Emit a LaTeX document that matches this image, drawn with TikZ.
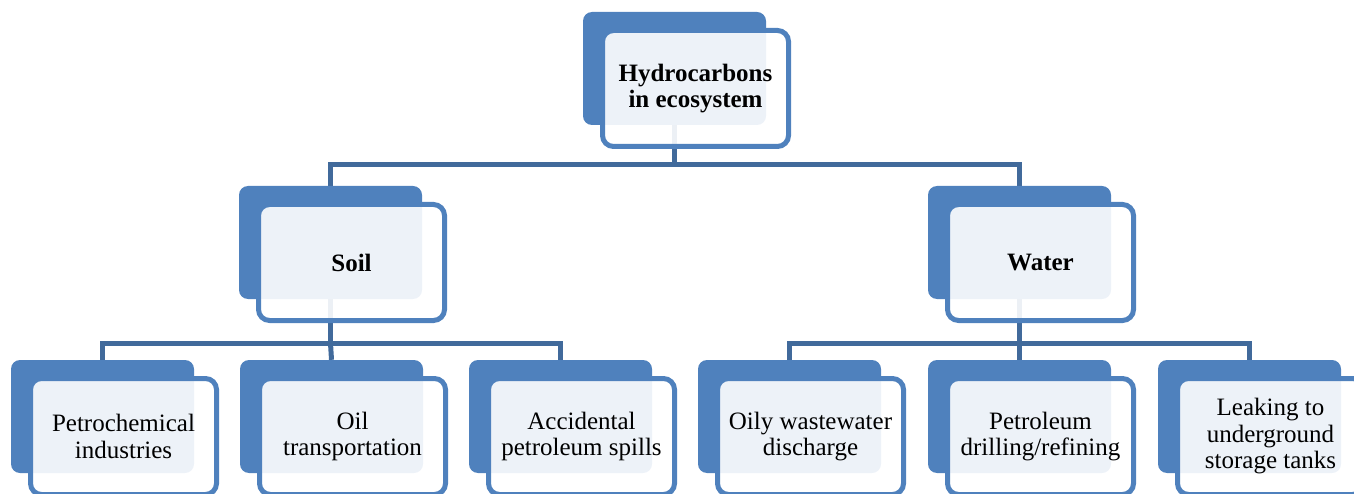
\documentclass[tikz,border=0pt]{standalone}
\usepackage{fontspec}
\setmainfont{Liberation Serif}
\definecolor{hcblue}{RGB}{79,129,189}
\definecolor{hcline}{RGB}{65,106,155}
\pgfdeclarelayer{bg}
\pgfsetlayers{bg,main}
\begin{document}
\begin{tikzpicture}[x=1pt,y=-1pt,
				line join = miter,inner sep = 0pt,
				hcback/.style={rectangle,rounded corners=9pt,fill = hcblue, minimum width=183pt, minimum height=113pt},
				hcfront/.style={rectangle,rounded corners=11pt,draw = hcblue,line width=5pt,fill = white,fill opacity=0.9,text opacity=1,minimum width=186pt, minimum height=116pt,align=center,font=\fontsize{25}{26.5}\selectfont},
				hcbold/.style={hcfront,font=\fontsize{25}{26.5}\selectfont\bfseries},
				hcconn/.style={draw = hcline,line width=5pt}]
				\useasboundingbox (0,0) rectangle (1354,494);
				\clip (0,0) rectangle (1354,494);
				\node at (674.5,68.5) (hydro) [hcback] {};
				\node at (330.5,242.5) (soil) [hcback] {};
				\node at (1019.5,242.5) (water) [hcback] {};
				\node at (102.5,416.5) (petro) [hcback] {};
				\node at (331.5,416.5) (trans) [hcback] {};
				\node at (560.5,416.5) (spill) [hcback] {};
				\node at (789.5,416.5) (waste) [hcback] {};
				\node at (1019.5,416.5) (drill) [hcback] {};
				\node at (1249.5,416.5) (leak) [hcback] {};
				\node at ([shift={(21,20)}]hydro) (hydroT) [hcbold] {Hydrocarbons\\in ecosystem};
				\node at ([shift={(21,20)}]soil) (soilT) [hcbold] {Soil};
				\node at ([shift={(21,20)}]water) (waterT) [hcbold] {Water};
				\node at ([shift={(21,20)}]petro) (petroT) [hcfront] {Petrochemical\\industries};
				\node at ([shift={(21,20)}]trans) (transT) [hcfront] {Oil\\transportation};
				\node at ([shift={(21,20)}]spill) (spillT) [hcfront] {Accidental\\petroleum spills};
				\node at ([shift={(21,20)}]waste) (wasteT) [hcfront] {Oily wastewater\\discharge};
				\node at ([shift={(21,20)}]drill) (drillT) [hcfront] {Petroleum\\drilling/refining};
				\node at ([shift={(21,20)}]leak) (leakT) [hcfront] {Leaking to\\underground\\storage tanks};
				\begin{pgfonlayer}{bg}
				\draw[hcconn] (hydro.south) -- ++(0,39) coordinate (hydroBus);
				\draw[hcconn] (soil.north) |- (hydroBus) -| (water.north);
				\draw[hcconn] (soil.south) -- ++(0,44) coordinate (soilBus);
				\draw[hcconn] (petro.north) |- (soilBus) -| (spill.north);
				\draw[hcconn] (soilBus) -- (trans.north);
				\draw[hcconn] (water.south) -- ++(0,44) coordinate (waterBus);
				\draw[hcconn] (waste.north) |- (waterBus) -| (leak.north);
				\draw[hcconn] (waterBus) -- (drill.north);
				\end{pgfonlayer}
			\end{tikzpicture}
\end{document}
